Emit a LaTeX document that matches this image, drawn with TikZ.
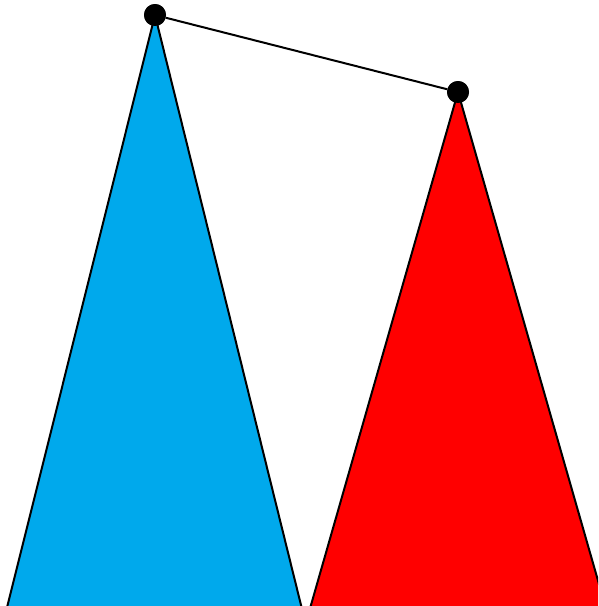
\documentclass[tikz,border=0pt]{standalone}
\usepackage{xcolor}
\usetikzlibrary{calc, positioning}
\definecolor{treeblue}{RGB}{0,169,236}
\definecolor{treered}{RGB}{255,0,0}
\tikzset{
  leaf/.style={circle, fill=black, inner sep=0pt, minimum size=22pt},
  tri/.style={draw=black, line width=2pt, line join=miter}
}

\begin{document}
\begin{tikzpicture}[x=1pt, y=-1pt]
    \useasboundingbox (0,0) rectangle (598,606);
    \clip (0,0) rectangle (598,606);
    % roots
    \node[leaf] (a) at (155,15) {};
    \node[leaf] (b) at (458,92) {};
    % subtrees
    \draw[tri, fill=treeblue] (a.center) -- (3.9,620) -- (304.7,620) -- cycle;
    \draw[tri, fill=treered] (b.center) -- (306.7,620) -- (609.3,620) -- cycle;
    \draw[line width=2pt] (a) -- (b);
    \node[leaf] at (a) {};
    \node[leaf] at (b) {};
\end{tikzpicture}
\end{document}
